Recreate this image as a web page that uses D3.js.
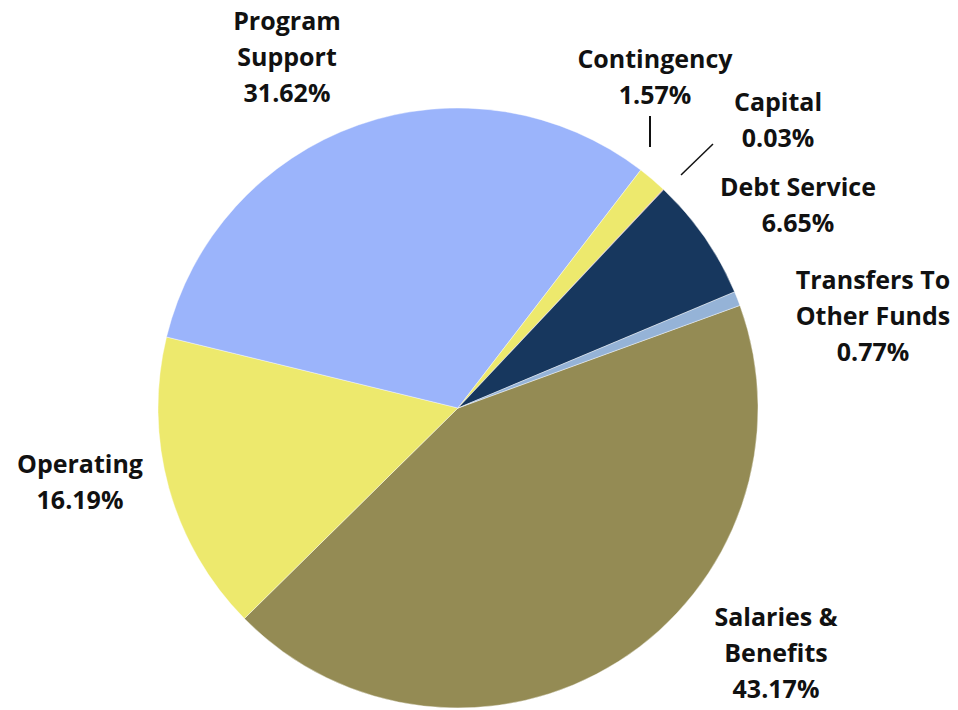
<!DOCTYPE html>
<html>
<head>
<meta charset="utf-8">
<script src="https://cdn.jsdelivr.net/npm/d3@7"></script>
<style>
  html, body { margin: 0; padding: 0; background: #fff; }
  svg { display: block; }
  .lbl { font-family: "Open Sans", "Noto Sans", sans-serif; font-weight: 700; font-size: 25px; fill: #111; }
</style>
</head>
<body>
<svg id="chart" width="958" height="710"></svg>
<script>
// Budget categories, drawn clockwise
const categories = ["Salaries & Benefits", "Operating", "Program Support", "Contingency", "Capital", "Debt Service", "Transfers To Other Funds"];
const shares = [43.17, 16.19, 31.62, 1.57, 0.03, 6.65, 0.77];
const colors = ["#948b54", "#ede96d", "#9bb4fb", "#ede96d", "#c0504d", "#17375e", "#95b3d7"];

// Label text lines per category
const labelLines = [
  ["Salaries &", "Benefits", "43.17%"],
  ["Operating", "16.19%"],
  ["Program", "Support", "31.62%"],
  ["Contingency", "1.57%"],
  ["Capital", "0.03%"],
  ["Debt Service", "6.65%"],
  ["Transfers To", "Other Funds", "0.77%"]
];
// Label anchor (centre of first line) for each category
const labelPos = [[776, 617], [80, 464], [287, 21], [655, 59], [778, 102], [798, 187], [873, 280]];

const svg = d3.select("#chart");
const cx = 458, cy = 408, r = 300;
const start = 70.0 * Math.PI / 180;

const pie = d3.pie().sort(null).value(d => d)
  .startAngle(start).endAngle(start + 2 * Math.PI);
const arc = d3.arc().innerRadius(0).outerRadius(r);

const g = svg.append("g").attr("transform", `translate(${cx},${cy})`);
g.selectAll("path")
  .data(pie(shares))
  .join("path")
  .attr("d", arc)
  .attr("fill", (d, i) => colors[i])
  .attr("stroke", "#fff")
  .attr("stroke-width", 0.4);

// Leader lines for the two thin slices
svg.append("line").attr("x1", 650).attr("y1", 116).attr("x2", 650).attr("y2", 147)
  .attr("stroke", "#111").attr("stroke-width", 2);
svg.append("line").attr("x1", 713).attr("y1", 144).attr("x2", 681).attr("y2", 175)
  .attr("stroke", "#111").attr("stroke-width", 1.5);

const lh = 36;
labelLines.forEach((lines, i) => {
  const t = svg.append("text").attr("class", "lbl")
    .attr("text-anchor", "middle")
    .attr("x", labelPos[i][0]).attr("y", labelPos[i][1]);
  lines.forEach((s, j) => {
    t.append("tspan").attr("x", labelPos[i][0]).attr("y", labelPos[i][1] + j * lh)
      .attr("dy", "0.35em").text(s);
  });
});
</script>
</body>
</html>
